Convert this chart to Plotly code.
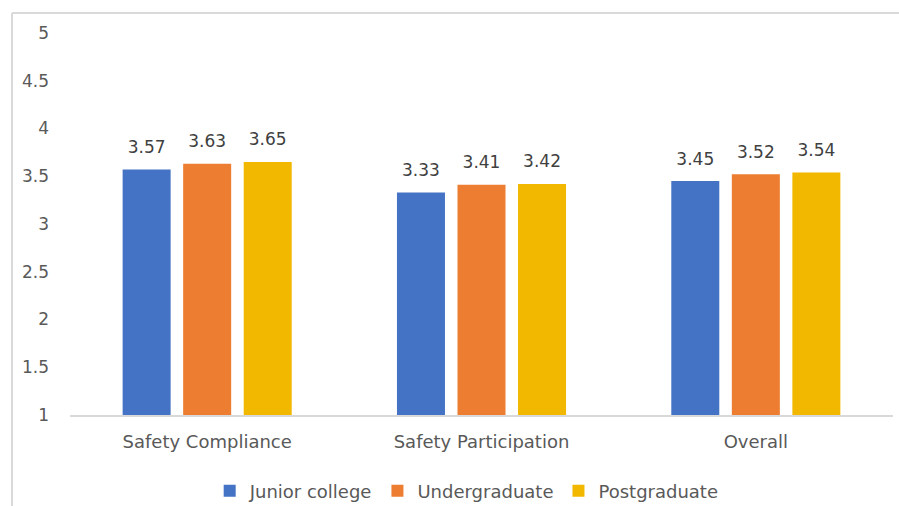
import plotly.graph_objects as go

categories = ["Safety Compliance", "Safety Participation", "Overall"]
series_names = ["Junior college", "Undergraduate", "Postgraduate"]
junior_college = [3.57, 3.33, 3.45]
undergraduate = [3.63, 3.41, 3.52]
postgraduate = [3.65, 3.42, 3.54]
y_ticks = [1, 1.5, 2, 2.5, 3, 3.5, 4, 4.5, 5]
y_tick_labels = ["1", "1.5", "2", "2.5", "3", "3.5", "4", "4.5", "5"]

series_values = [junior_college, undergraduate, postgraduate]
colors = ["#4472C4", "#ED7D31", "#F2B800"]

FONT = "DejaVu Sans"
FS = 18
TXT = "#595959"

fig = go.Figure()
for name, vals, col in zip(series_names, series_values, colors):
    fig.add_trace(go.Bar(
        x=categories, y=[v - 1 for v in vals], base=1, name=name,
        marker=dict(color=col, line=dict(width=0)),
        offsetgroup=name, hoverinfo="skip",
    ))
for name, vals in zip(series_names, series_values):
    fig.add_trace(go.Scatter(
        x=categories, y=vals, mode="markers+text",
        text=[f"{v:.2f}" for v in vals], textposition="top center",
        textfont=dict(family=FONT, size=17, color="#404040"),
        marker=dict(size=18, opacity=0), showlegend=False,
        offsetgroup=name, cliponaxis=False, hoverinfo="skip",
    ))

fig.update_layout(
    width=899, height=506,
    margin=dict(l=70, r=6, t=33, b=91, autoexpand=False),
    paper_bgcolor="white", plot_bgcolor="white",
    barmode="group", bargap=0.338, bargroupgap=0.207,
    scattermode="group", scattergap=0.338,
    font=dict(family=FONT, size=FS, color=TXT),
    showlegend=True,
    legend=dict(orientation="h", x=0.482, xanchor="center", y=-0.199, yanchor="middle",
                font=dict(family=FONT, size=FS, color=TXT), traceorder="normal",
                itemwidth=30),
    xaxis=dict(showline=True, linecolor="#D9D9D9", linewidth=1.5, ticks="",
               ticklabelstandoff=10,
               tickfont=dict(family=FONT, size=FS, color=TXT), showgrid=False),
    yaxis=dict(range=[1, 5], tickvals=y_ticks, ticktext=y_tick_labels, showgrid=False,
               showline=False, zeroline=False, ticks="", ticklabelstandoff=20,
               tickfont=dict(family=FONT, size=17, color=TXT)),
    shapes=[
        dict(type="line", xref="paper", yref="paper", x0=(12 - 70) / 823, x1=1.02,
             y0=1 + 20 / 382, y1=1 + 20 / 382, line=dict(color="#D9D9D9", width=2)),
        dict(type="line", xref="paper", yref="paper", x0=(12 - 70) / 823, x1=(12 - 70) / 823,
             y0=1 + 20 / 382, y1=-0.26, line=dict(color="#D9D9D9", width=2)),
    ],
)

fig.write_html("out.html")
